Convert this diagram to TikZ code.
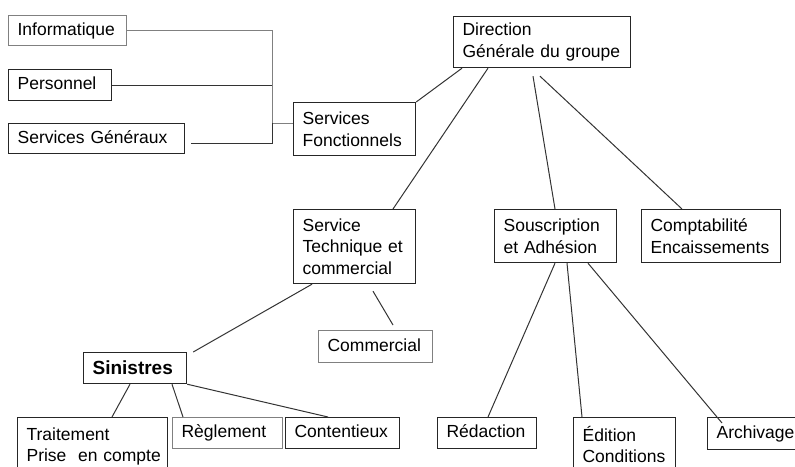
\documentclass[tikz,border=0pt]{standalone}
\usepackage{fontspec}
\setmainfont{Liberation Sans}
\begin{document}
\begin{tikzpicture}[x=1pt,y=-1pt,
		box/.style={draw=black!85, line width=1.2pt, anchor=north west, align=left,
			inner xsep=9pt, inner ysep=0pt, font=\fontsize{17.5}{21.5}\selectfont},
		oneline/.style={text height=12.7pt, text depth=3.7pt},
		pale/.style={draw=black!50},
		link/.style={draw=black!80, line width=1pt},
		palelink/.style={draw=black!50, line width=1pt}]
	
	\path[use as bounding box, clip] (0,0) rectangle (795,466);
	
	% head
	\node[box, text width=159pt, minimum height=51pt] (dir) at (453,16) {Direction\\Générale du groupe};
	
	% functional services
	\node[box, text width=104pt, minimum height=53pt] (fonc) at (293,102) {Services\\Fonctionnels};
	\node[box, oneline, pale, text width=100pt, minimum height=30pt] (info) at (8,15) {Informatique};
	\node[box, oneline, text width=85pt, minimum height=31pt] (pers) at (8,69) {Personnel};
	\node[box, oneline, text width=158pt, minimum height=30pt] (genx) at (8,123) {Services Généraux};
	
	% second level
	\node[box, text width=104pt, minimum height=74pt] (tech) at (293,209) {Service\\Technique et\\commercial};
	\node[box, text width=104pt, minimum height=53pt] (sous) at (494,209) {Souscription\\et Adhésion};
	\node[box, text width=121pt, minimum height=53pt] (compt) at (641,209) {Comptabilité\\Encaissements};
	\node[box, oneline, pale, text width=96pt, minimum height=32pt] (comm) at (318,330) {Commercial};
	\node[box, text width=85pt, minimum height=31pt, font=\bfseries\fontsize{19}{23}\selectfont] (sin) at (83,352) {Sinistres};
	
	% bottom row
	\node[box, text width=132pt, minimum height=58pt] (trait) at (17,417) {Traitement\\\mbox{Prise\ \ en compte}};
	\node[box, oneline, pale, text width=92pt, minimum height=31pt] (regl) at (172,417) {Règlement};
	\node[box, oneline, text width=96pt, minimum height=31pt] (cont) at (285,417) {Contentieux};
	\node[box, oneline, text width=81pt, minimum height=31pt] (red) at (437,417) {Rédaction};
	\node[box, text width=84pt, minimum height=54pt] (edit) at (573,417) {Édition\\Conditions};
	\node[box, oneline, text width=92pt, minimum height=32pt] (arch) at (707,417) {Archivage};
	
	% bracket on the left
	\coordinate (brk) at (272,123);
	\draw[palelink] (info.east) -| (brk) -- (brk -| fonc.west);
	\draw[link] (pers.east) -- (pers.east -| brk);
	\draw[link] ([xshift=6pt,yshift=-5pt]genx.east) -| (brk);
	
	% from the head
	\draw[link] ([xshift=9pt]dir.south west) -- (fonc.north east);
	\draw[link] ([xshift=35pt]dir.south west) -- ([xshift=100pt]tech.north west);
	\draw[link] ([xshift=80pt,yshift=-8pt]dir.south west) -- ([xshift=61pt]sous.north west);
	\draw[link] ([xshift=87pt,yshift=-8pt]dir.south west) -- ([xshift=41pt]compt.north west);
	
	% technical and commercial
	\draw[link] ([xshift=80pt,yshift=-7pt]tech.south west) -- ([xshift=75pt,yshift=5pt]comm.north west);
	\draw[link] ([xshift=19pt]tech.south west) -- ([xshift=6pt]sin.north east);
	
	% claims
	\draw[link] ([xshift=47pt]sin.south west) -- ([xshift=95pt]trait.north west);
	\draw[link] ([xshift=89pt]sin.south west) -- ([xshift=11pt]regl.north west);
	\draw[link] (sin.south east) -- ([xshift=43pt]cont.north west);
	
	% subscription
	\draw[link] ([xshift=61pt]sous.south west) -- ([xshift=51pt]red.north west);
	\draw[link] ([xshift=73pt]sous.south west) -- ([xshift=9pt]edit.north west);
	\draw[link] ([xshift=94pt]sous.south west) -- ([xshift=15pt,yshift=-6pt]arch.north west);
	
\end{tikzpicture}
\end{document}
